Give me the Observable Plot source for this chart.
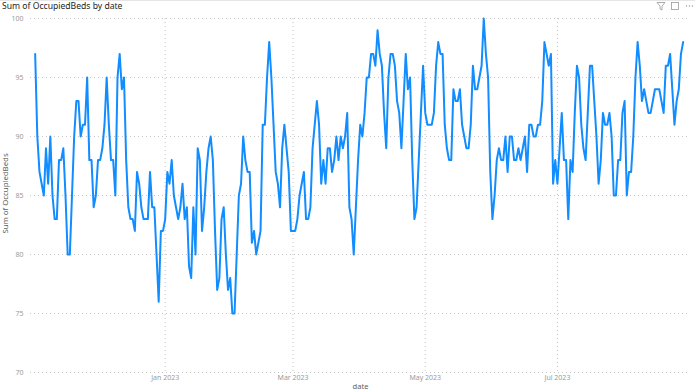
<!DOCTYPE html>
<html><head><meta charset="utf-8">
<script src="https://cdn.jsdelivr.net/npm/d3@7"></script>
<script src="https://cdn.jsdelivr.net/npm/@observablehq/plot@0.6"></script>
<style>
html,body{margin:0;padding:0;background:#fff;}
#wrap{position:relative;width:695px;height:391px;overflow:hidden;font-family:"Noto Sans",sans-serif;}
#chart{position:absolute;left:0;top:0;}
#topline{position:absolute;left:0;top:0;width:695px;height:1px;background:#e6e6e6}
#title{position:absolute;left:2px;top:1px;font-size:8.6px;line-height:10px;color:#252423;white-space:nowrap;}
#icons{position:absolute;left:655px;top:0px;}
</style></head><body>
<div id="wrap">
<div id="chart"></div>
<div id="topline"></div>
<div id="title">Sum of OccupiedBeds by date</div>
<svg id="icons" width="40" height="12" viewBox="0 0 40 12">
  <path d="M2 2.5 H10 L7 6 V10 L5 9 V6 Z" fill="none" stroke="#999" stroke-width="0.8"/>
  <rect x="16.5" y="2.5" width="7" height="7" fill="none" stroke="#999" stroke-width="0.8"/>
  <circle cx="31.5" cy="6" r="0.7" fill="#999"/><circle cx="34.5" cy="6" r="0.7" fill="#999"/><circle cx="37.5" cy="6" r="0.7" fill="#999"/>
</svg>
</div>
<script>
// ---- data ----
const startDate = "2022-11-02";
const occupiedBeds = [
  97, 90, 87, 86, 85, 89, 86, 90, 85, 83,
  83, 88, 88, 89, 85, 80, 80, 85, 90, 93,
  93, 90, 91, 91, 95, 88, 88, 84, 85, 88,
  88, 89, 91, 95, 91, 88, 88, 85, 95, 97,
  94, 95, 88, 84, 83, 83, 82, 87, 86, 84,
  83, 83, 83, 87, 84, 84, 80, 76, 82, 82,
  83, 87, 86, 88, 85, 84, 83, 84, 86, 83,
  84, 79, 78, 84, 80, 89, 88, 82, 84, 87,
  89, 90, 88, 82, 77, 78, 83, 84, 80, 77,
  78, 75, 75, 80, 85, 86, 90, 88, 87, 87,
  81, 82, 80, 81, 82, 91, 91, 95, 98, 95,
  91, 87, 86, 84, 89, 91, 89, 87, 82, 82,
  82, 83, 85, 86, 87, 83, 83, 84, 89, 91,
  93, 91, 86, 88, 86, 89, 89, 87, 88, 90,
  88, 90, 89, 90, 92, 84, 83, 80, 84, 88,
  91, 90, 92, 95, 95, 97, 97, 96, 99, 97,
  96, 92, 89, 95, 97, 97, 96, 93, 92, 89,
  93, 97, 94, 95, 88, 83, 84, 88, 92, 96,
  92, 91, 91, 91, 92, 96, 98, 97, 97, 91,
  89, 88, 88, 94, 93, 93, 94, 91, 90, 89,
  89, 91, 96, 94, 94, 95, 96, 100, 97, 95,
  87, 83, 85, 88, 89, 88, 88, 90, 87, 90,
  90, 88, 88, 89, 88, 89, 90, 87, 91, 91,
  90, 90, 91, 91, 93, 98, 97, 96, 97, 86,
  88, 86, 89, 92, 88, 88, 83, 88, 87, 92,
  96, 95, 91, 89, 88, 92, 96, 96, 93, 90,
  86, 88, 92, 91, 91, 92, 90, 85, 85, 88,
  88, 92, 93, 85, 87, 87, 90, 95, 98, 96,
  93, 94, 93, 92, 92, 93, 94, 94, 94, 93,
  92, 96, 96, 97, 94, 91, 93, 94, 97, 98
];
const xTickDates = ["2023-01-01", "2023-03-01", "2023-05-01", "2023-07-01"];
const xTickLabels = ["Jan 2023", "Mar 2023", "May 2023", "Jul 2023"];
const yTicks = [70, 75, 80, 85, 90, 95, 100];
const titleX = "date";
const titleY = "Sum of OccupiedBeds";

// ---- build ----
const DAY = 864e5;
const t0 = Date.parse(startDate + "T00:00:00Z");
const data = occupiedBeds.map((v, i) => ({date: new Date(t0 + i * DAY), beds: v}));
const first = data[0].date, last = data[data.length - 1].date;
const xTicks = xTickDates.map(s => new Date(s + "T00:00:00Z"));
const fmtX = d => xTickLabels[xTicks.findIndex(t => +t === +d)];

const chart = Plot.plot({
  width: 695, height: 391,
  marginLeft: 30, marginRight: 5, marginTop: 18, marginBottom: 19,
  style: {fontFamily: '"Noto Sans", sans-serif', fontSize: "7px", color: "#9a9a9a", background: "transparent", overflow: "visible"},
  x: {type: "utc", domain: [new Date(+first - 2.15 * DAY), new Date(+last + 3.4 * DAY)]},
  y: {domain: [70, 100]},
  marks: [
    Plot.gridY(yTicks, {stroke: "#c6c6c6", strokeOpacity: 1, strokeWidth: 1, strokeDasharray: "1,3"}),
    Plot.gridX(xTicks, {stroke: "#c6c6c6", strokeOpacity: 1, strokeWidth: 1, strokeDasharray: "1,3"}),
    Plot.axisY(yTicks, {tickSize: 0, tickPadding: 7, label: null, fill: "#9a9a9a", fontSize: 7}),
    Plot.axisX(xTicks, {tickSize: 0, tickPadding: 3, tickFormat: fmtX, label: null, fill: "#9a9a9a", fontSize: 7}),
    Plot.lineY(data, {x: "date", y: "beds", stroke: "#118DFF", strokeWidth: 2}),
    Plot.text([titleX], {frameAnchor: "bottom", dy: 14, lineAnchor: "middle", textAnchor: "middle", fill: "#605E5C", fontSize: 7.6}),
    Plot.text([titleY], {frameAnchor: "left", dx: -25, dy: -2, rotate: -90, textAnchor: "middle", lineAnchor: "middle", fill: "#605E5C", fontSize: 7.8})
  ]
});
document.getElementById("chart").appendChild(chart);
</script>
</body></html>
